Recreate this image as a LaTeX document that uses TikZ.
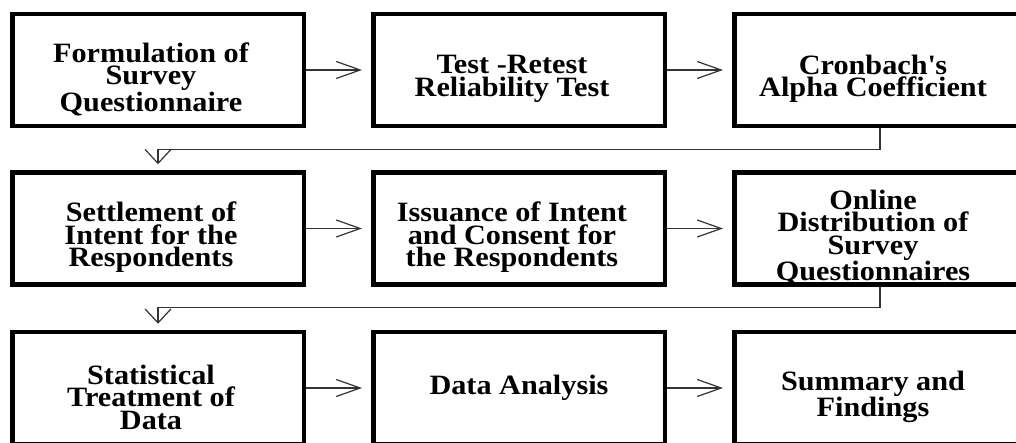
\documentclass[tikz,border=0pt]{standalone}
\usepackage{fontspec}
\setmainfont{Liberation Serif}[FakeStretch=1.08]
\usetikzlibrary{positioning,arrows.meta}
\begin{document}
\begin{tikzpicture}[x=1pt,y=1pt,
    stepfont/.style={font=\bfseries\fontsize{28}{22.5}\selectfont},
    stepbox/.style={draw, line width=4.5pt, minimum width=291.5pt, minimum height=112pt,
      align=center, stepfont, inner sep=2pt},
    boxtext/.style={align=center, stepfont, inner sep=0pt, xshift=-7pt, yshift=-9pt},
    steptext/.style={label={[boxtext]center:{#1}}},
    flowarrow/.style={draw=black!80, line width=1.2pt, shorten >=9pt,
      -{Straight Barb[length=24pt,width=17pt,line width=1.2pt]}},
    flowline/.style={draw=black!80, line width=1.2pt, shorten >=6pt,
      -{Straight Barb[length=14pt,width=26pt,line width=1.2pt]}}]
  \useasboundingbox (0,0) rectangle (1016,442);
  \clip (0,0) rectangle (1016,442);
  \node[stepbox, steptext={Formulation of\\Survey\\Questionnaire}] (form) at (158,372) {};
  \node[stepbox, right=65pt of form, steptext={Test -Retest\\Reliability Test}] (retest) {};
  \node[stepbox, right=65pt of retest, steptext={Cronbach\textquotesingle s\\Alpha Coefficient}] (alpha) {};
  \node[stepbox, below=42pt of form, steptext={Settlement of\\Intent for the\\Respondents}] (settle) {};
  \node[stepbox, right=65pt of settle, steptext={Issuance of Intent\\and Consent for\\the Respondents}] (consent) {};
  \node[stepbox, right=65pt of consent, steptext={Online\\Distribution of\\Survey\\Questionnaires}] (online) {};
  \node[stepbox, below=43pt of settle, steptext={Statistical\\Treatment of\\Data}] (treat) {};
  \node[stepbox, right=65pt of treat] (analysis) {Data Analysis};
  \node[stepbox, right=65pt of analysis, steptext={Summary and\\Findings}] (summary) {};
  \draw[flowarrow] (form) -- (retest);
  \draw[flowarrow] (retest) -- (alpha);
  \draw[flowarrow] (settle) -- (consent);
  \draw[flowarrow] (consent) -- (online);
  \draw[flowarrow] (treat) -- (analysis);
  \draw[flowarrow] (analysis) -- (summary);
  \draw[flowline] (alpha.south) -- ++(0,-21) -| (settle.north);
  \draw[flowline] (online.south) -- ++(0,-21) -| (treat.north);
\end{tikzpicture}
\end{document}
